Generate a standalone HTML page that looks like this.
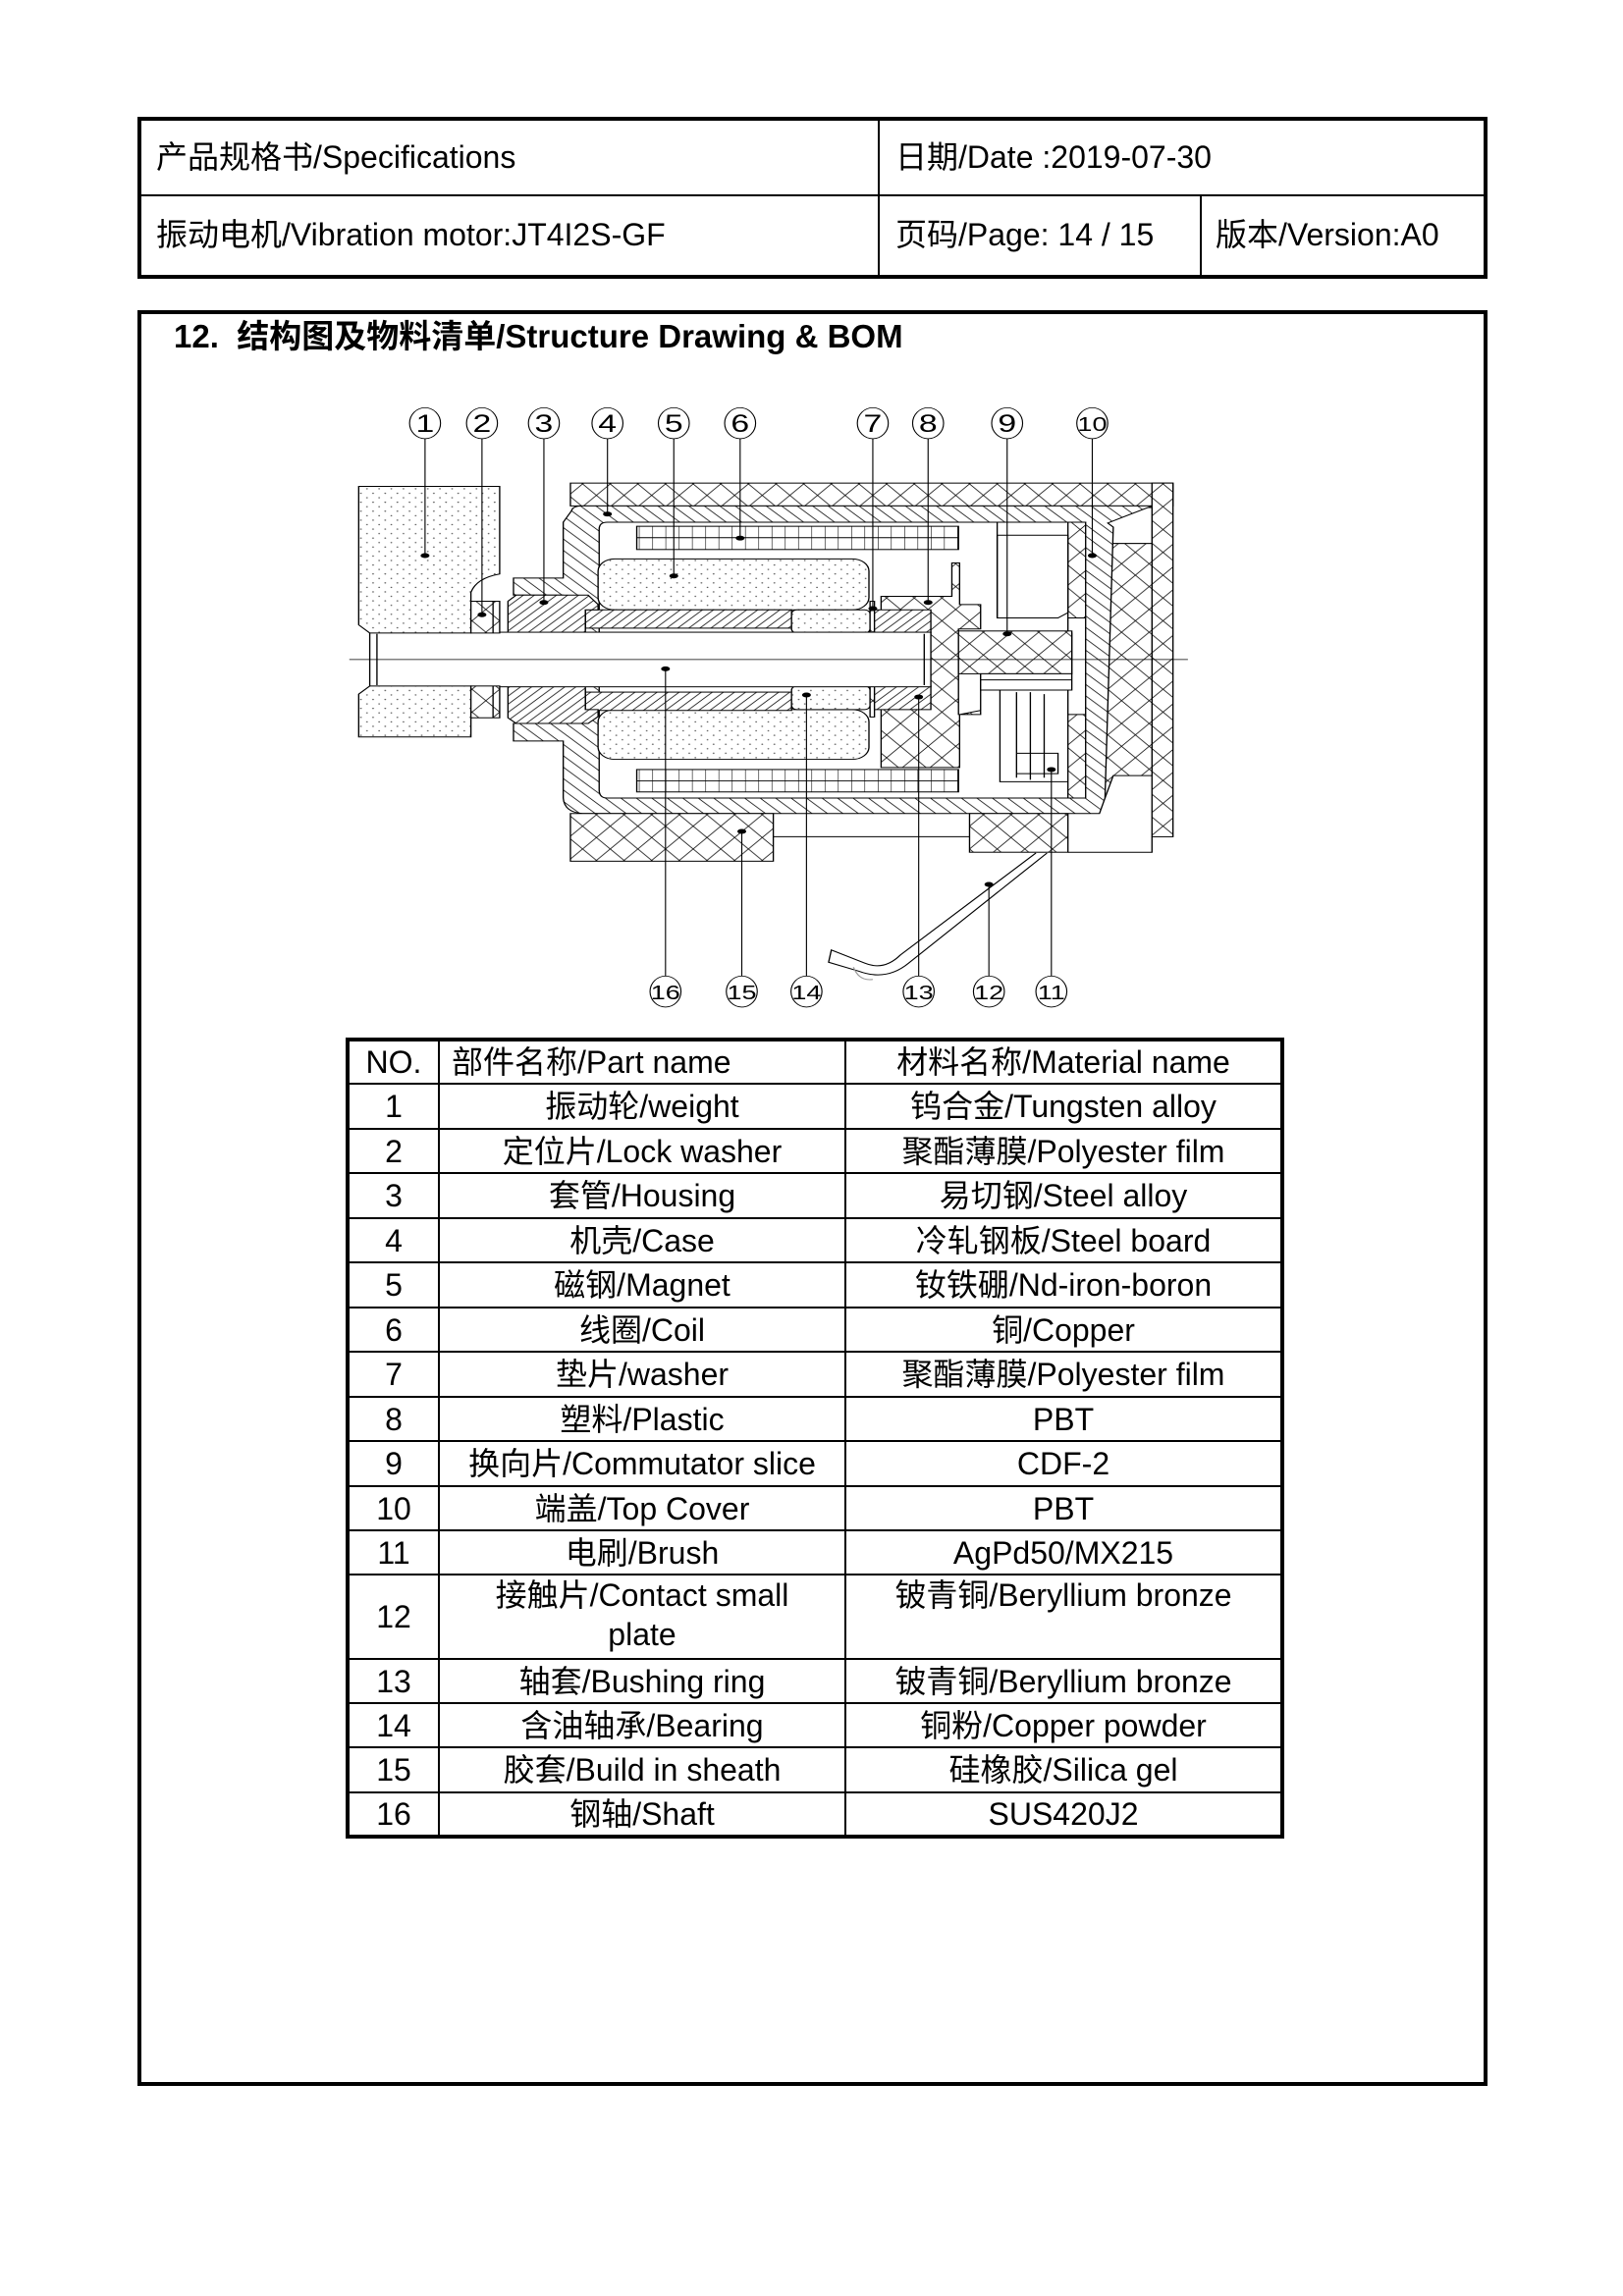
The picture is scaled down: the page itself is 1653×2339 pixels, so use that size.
<!DOCTYPE html>
<html><head><meta charset="utf-8">
<style>
body{margin:0;background:#fff;}
#p{position:relative;width:1653px;height:2339px;background:#fff;overflow:hidden;font-family:"Liberation Sans","Noto Sans CJK SC",sans-serif;color:#000;}
.abs{position:absolute;}
.t{position:absolute;font-size:32px;white-space:nowrap;line-height:1;}
table.bom{position:absolute;left:352px;top:1057px;width:956px;border-collapse:collapse;border:4px solid #000;font-size:32px;}
table.bom td{border:2px solid #000;text-align:center;padding:0;line-height:40px;}
</style></head><body><div id="p">
<!-- header -->
<div class="abs" style="left:140px;top:119px;width:1367px;height:157px;border:4px solid #000;"></div>
<div class="abs" style="left:144px;top:198px;width:1367px;height:2px;background:#000;"></div>
<div class="abs" style="left:894px;top:123px;width:2px;height:157px;background:#000;"></div>
<div class="abs" style="left:1222px;top:200px;width:2px;height:80px;background:#000;"></div>
<div class="t" style="left:159px;top:144px;">产品规格书/Specifications</div>
<div class="t" style="left:912px;top:144px;">日期/Date :2019-07-30</div>
<div class="t" style="left:159px;top:223px;">振动电机/Vibration motor:JT4I2S-GF</div>
<div class="t" style="left:912px;top:223px;">页码/Page: 14 / 15</div>
<div class="t" style="left:1238px;top:223px;">版本/Version:A0</div>
<!-- section box -->
<div class="abs" style="left:140px;top:316px;width:1367px;height:1801px;border:4px solid #000;"></div>
<div class="t" style="left:177px;top:326px;font-weight:bold;font-size:33px;">12.&nbsp; 结构图及物料清单/Structure Drawing &amp; BOM</div>

<svg class="abs" style="left:340px;top:400px" width="880" height="650" viewBox="0 0 1563 1566" preserveAspectRatio="none">
<defs>
<pattern id="dots" width="22" height="22" patternUnits="userSpaceOnUse"><rect width="22" height="22" fill="#fff"/><circle cx="5" cy="5" r="1.6" fill="#555"/><circle cx="16" cy="16" r="1.6" fill="#555"/></pattern>
<pattern id="diag" width="28" height="28" patternUnits="userSpaceOnUse"><rect width="28" height="28" fill="#fff"/><path d="M0,0 L28,28 M-14,14 L14,42 M14,-14 L42,14" stroke="#000" stroke-width="1.6"/></pattern>
<pattern id="diag2" width="20" height="20" patternUnits="userSpaceOnUse"><rect width="20" height="20" fill="#fff"/><path d="M0,20 L20,0 M-10,10 L10,-10 M10,30 L30,10" stroke="#000" stroke-width="1.6"/></pattern>
<pattern id="cross" width="50" height="56" patternUnits="userSpaceOnUse"><rect width="50" height="56" fill="#fff"/><path d="M0,0 L50,56 M50,0 L0,56" stroke="#000" stroke-width="1.6"/></pattern>
<pattern id="grid" width="24" height="28" patternUnits="userSpaceOnUse"><rect width="24" height="28" fill="#fff"/><path d="M0,0 V28" stroke="#000" stroke-width="2"/></pattern>
</defs>
<g stroke="#000" stroke-width="2.4" fill="none">
<rect x="428" y="222" width="1090" height="56" fill="url(#cross)"/>
<rect x="1480" y="222" width="38" height="868" fill="url(#cross)"/>
<path d="M1328,318 L1400,318 L1400,370 L1480,370 L1480,940 L1410,940 L1395,995 L1328,995 Z" fill="url(#cross)"/>
<rect x="1395" y="282" width="85" height="88" fill="#fff"/>
<path d="M1328,553 L1390,553 L1390,600 L1380,620 L1380,700 L1390,720 L1390,790 L1328,790 Z" fill="#fff"/>
<path fill-rule="evenodd" fill="url(#diag)" d="M430,290 Q432,278 450,278 L1480,278 L1400,320 L1410,330 L1395,995 L1385,1033 L450,1033 Q417,1030 415,995 L415,855 L325,855 L325,812 L415,812 L415,497 L325,497 L325,455 L415,455 L415,318 Z M495,318 Q480,318 480,335 L480,975 Q480,995 495,995 L1360,995 L1360,318 Z"/>
<rect x="428" y="1033" width="367" height="117" fill="url(#cross)"/>
<rect x="1150" y="1033" width="178" height="95" fill="url(#cross)"/>
<path d="M795,1090 L1150,1090 M1328,1128 L1480,1128 L1480,1090"/>
<rect x="548" y="328" width="582" height="57" fill="url(#grid)"/>
<line x1="548" y1="356" x2="1130" y2="356"/>
<rect x="548" y="925" width="582" height="55" fill="url(#grid)"/>
<line x1="548" y1="953" x2="1130" y2="953"/>
<rect x="478" y="408" width="490" height="125" rx="30" fill="url(#dots)"/>
<rect x="478" y="778" width="490" height="122" rx="30" fill="url(#dots)"/>
<path d="M990,500 L1118,500 L1118,418 L1132,418 L1132,520 L1170,520 L1170,580 L1130,580 L1130,790 L1170,790 L1170,690 L1335,690 L1335,590 L1170,590 L1170,780 L1132,790 L1132,920 L990,920 Z" fill="url(#cross)"/>
<rect x="1130" y="585" width="205" height="105" fill="url(#cross)"/>
<path d="M1200,350 L1328,350 L1328,540 L1310,553 L1200,553 Z" fill="#fff"/>
<line x1="1200" y1="318" x2="1200" y2="553"/>
<rect x="1170" y="690" width="165" height="40" fill="#fff"/>
<line x1="1170" y1="705" x2="1335" y2="705"/>
<path d="M1205,730 L1205,955 L1328,955 M1235,735 L1235,945 M1260,735 L1260,950 M1285,740 L1285,945 M1235,885 L1310,885 L1310,935 L1235,935"/>
<rect x="455" y="533" width="373" height="45" fill="url(#diag2)"/>
<rect x="455" y="735" width="373" height="45" fill="url(#diag2)"/>
<rect x="318" y="533" width="137" height="57" rx="10" fill="url(#dots)"/>
<rect x="318" y="720" width="137" height="58" rx="10" fill="url(#dots)"/>
<rect x="828" y="533" width="142" height="57" rx="10" fill="url(#dots)"/>
<rect x="828" y="720" width="142" height="58" rx="10" fill="url(#dots)"/>
<path d="M315,512 L330,497 L460,497 L478,520 L478,533 L455,533 L455,590 L315,590 Z" fill="url(#diag2)"/>
<path d="M315,720 L455,720 L455,778 L478,778 L478,795 L460,812 L330,812 L315,798 Z" fill="url(#diag2)"/>
<rect x="970" y="512" width="8" height="80" fill="url(#cross)"/>
<rect x="970" y="720" width="8" height="76" fill="url(#cross)"/>
<path d="M978,533 L1080,533 L1080,590 L978,590 Z M978,720 L1080,720 L1080,778 L978,778 Z" fill="url(#diag2)"/>
<rect x="65" y="588" width="1015" height="134" fill="#fff"/>
<path d="M78,592 L78,718 M1068,592 L1068,718"/>
<path d="M45,230 L300,230 L300,445 Q258,455 248,490 L248,590 L65,590 L45,570 Z" fill="url(#dots)"/>
<path d="M45,740 L65,720 L248,720 L248,845 L45,845 Z" fill="url(#dots)"/>
<rect x="248" y="512" width="52" height="78" fill="url(#cross)"/>
<rect x="248" y="720" width="52" height="78" fill="url(#cross)"/>
<line x1="288" y1="512" x2="288" y2="590"/><line x1="288" y1="720" x2="288" y2="798"/>
<line x1="28" y1="655" x2="1545" y2="655" stroke-width="2"/>
<path d="M1270,1130 L1025,1380 Q995,1420 960,1400 L900,1368 L895,1398 L950,1420 Q1000,1445 1040,1400 L1290,1130"/>
<path d="M940,1410 Q950,1445 975,1440" stroke="#999"/>
<g stroke-width="2">
<path d="M165,113 V400 M268,113 V545 M380,113 V515 M495,113 V298 M615,113 V450 M735,113 V357 M975,113 V530 M1075,113 V515 M1218,113 V592 M1372,113 V400"/>
<path d="M600,678 V1432 M738,1077 V1432 M855,742 V1432 M1058,747 V1432 M1185,1207 V1432 M1298,925 V1432"/>
</g>
<g fill="#000" stroke="none">
<ellipse cx="165" cy="400" rx="8" ry="6"/><ellipse cx="268" cy="545" rx="8" ry="6"/><ellipse cx="380" cy="515" rx="8" ry="6"/><ellipse cx="495" cy="298" rx="8" ry="6"/><ellipse cx="615" cy="450" rx="8" ry="6"/><ellipse cx="735" cy="357" rx="8" ry="6"/><ellipse cx="975" cy="530" rx="8" ry="6"/><ellipse cx="1075" cy="515" rx="8" ry="6"/><ellipse cx="1218" cy="592" rx="8" ry="6"/><ellipse cx="1372" cy="400" rx="8" ry="6"/>
<ellipse cx="600" cy="678" rx="8" ry="6"/><ellipse cx="738" cy="1077" rx="8" ry="6"/><ellipse cx="855" cy="742" rx="8" ry="6"/><ellipse cx="1058" cy="747" rx="8" ry="6"/><ellipse cx="1185" cy="1207" rx="8" ry="6"/><ellipse cx="1298" cy="925" rx="8" ry="6"/>
</g>
<g fill="#fff" stroke-width="2">
<ellipse cx="165" cy="75" rx="28" ry="38"/><ellipse cx="268" cy="75" rx="28" ry="38"/><ellipse cx="380" cy="75" rx="28" ry="38"/><ellipse cx="495" cy="75" rx="28" ry="38"/><ellipse cx="615" cy="75" rx="28" ry="38"/><ellipse cx="735" cy="75" rx="28" ry="38"/><ellipse cx="975" cy="75" rx="28" ry="38"/><ellipse cx="1075" cy="75" rx="28" ry="38"/><ellipse cx="1218" cy="75" rx="28" ry="38"/><ellipse cx="1372" cy="75" rx="28" ry="38"/>
<ellipse cx="600" cy="1470" rx="28" ry="38"/><ellipse cx="738" cy="1470" rx="28" ry="38"/><ellipse cx="855" cy="1470" rx="28" ry="38"/><ellipse cx="1058" cy="1470" rx="28" ry="38"/><ellipse cx="1185" cy="1470" rx="28" ry="38"/><ellipse cx="1298" cy="1470" rx="28" ry="38"/>
</g>
</g>
<g font-family="Liberation Sans, sans-serif" font-size="60" text-anchor="middle" fill="#000">
<text x="165" y="96">1</text><text x="268" y="96">2</text><text x="380" y="96">3</text><text x="495" y="96">4</text><text x="615" y="96">5</text><text x="735" y="96">6</text><text x="975" y="96">7</text><text x="1075" y="96">8</text><text x="1218" y="96">9</text><text x="1372" y="94" font-size="48">10</text>
<text x="600" y="1489" font-size="48">16</text><text x="738" y="1489" font-size="48">15</text><text x="855" y="1489" font-size="48">14</text><text x="1058" y="1489" font-size="48">13</text><text x="1185" y="1489" font-size="48">12</text><text x="1298" y="1489" font-size="48">11</text>
</g>
</svg>

<table class="bom">
<colgroup><col style="width:93px"><col style="width:414px"><col></colgroup>
<tr style="height:45px"><td>NO.</td><td style="text-align:left;padding-left:12px">部件名称/Part name</td><td>材料名称/Material name</td></tr>
<tr style="height:46px"><td>1</td><td>振动轮/weight</td><td>钨合金/Tungsten alloy</td></tr>
<tr style="height:45px"><td>2</td><td>定位片/Lock washer</td><td>聚酯薄膜/Polyester film</td></tr>
<tr style="height:46px"><td>3</td><td>套管/Housing</td><td>易切钢/Steel alloy</td></tr>
<tr style="height:45px"><td>4</td><td>机壳/Case</td><td>冷轧钢板/Steel board</td></tr>
<tr style="height:46px"><td>5</td><td>磁钢/Magnet</td><td>钕铁硼/Nd-iron-boron</td></tr>
<tr style="height:45px"><td>6</td><td>线圈/Coil</td><td>铜/Copper</td></tr>
<tr style="height:46px"><td>7</td><td>垫片/washer</td><td>聚酯薄膜/Polyester film</td></tr>
<tr style="height:45px"><td>8</td><td>塑料/Plastic</td><td>PBT</td></tr>
<tr style="height:46px"><td>9</td><td>换向片/Commutator slice</td><td>CDF-2</td></tr>
<tr style="height:45px"><td>10</td><td>端盖/Top Cover</td><td>PBT</td></tr>
<tr style="height:45px"><td>11</td><td>电刷/Brush</td><td>AgPd50/MX215</td></tr>
<tr style="height:86px"><td>12</td><td style="vertical-align:top">接触片/Contact small<br>plate</td><td style="vertical-align:top">铍青铜/Beryllium bronze</td></tr>
<tr style="height:45px"><td>13</td><td>轴套/Bushing ring</td><td>铍青铜/Beryllium bronze</td></tr>
<tr style="height:45px"><td>14</td><td>含油轴承/Bearing</td><td>铜粉/Copper powder</td></tr>
<tr style="height:46px"><td>15</td><td>胶套/Build in sheath</td><td>硅橡胶/Silica gel</td></tr>
<tr style="height:45px"><td>16</td><td>钢轴/Shaft</td><td>SUS420J2</td></tr>
</table>
</div></body></html>
